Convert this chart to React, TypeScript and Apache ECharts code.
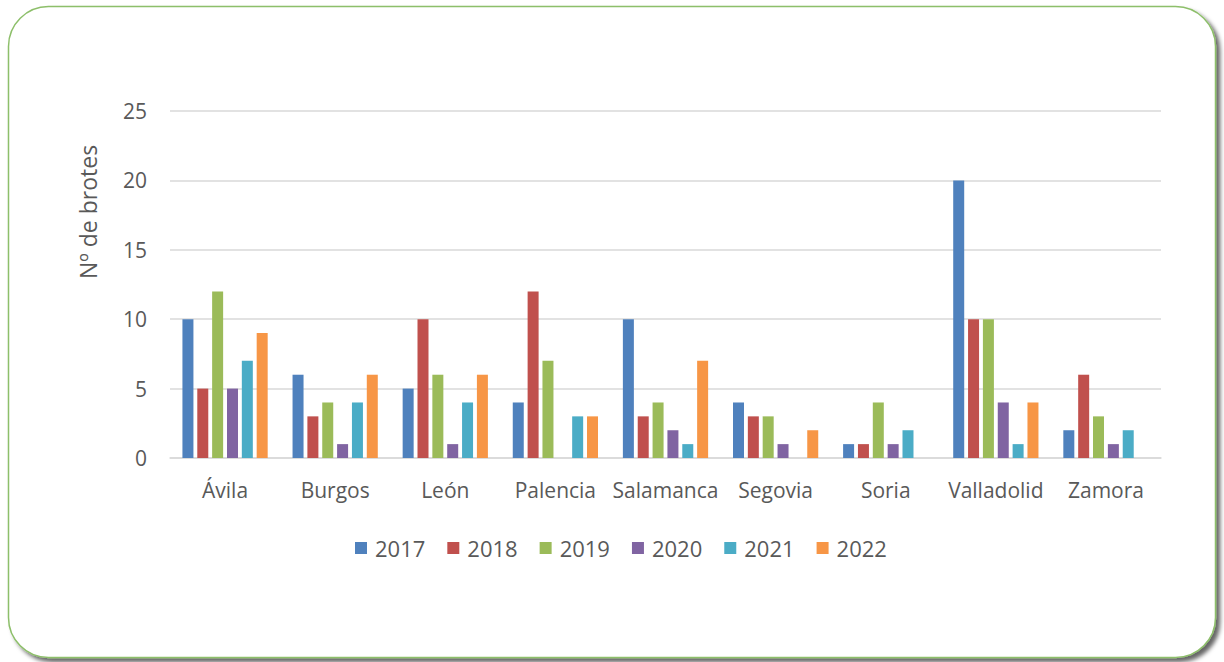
import React, { useEffect, useRef } from "react";
import * as echarts from "echarts";

const categories = ["Ávila", "Burgos", "León", "Palencia", "Salamanca", "Segovia", "Soria", "Valladolid", "Zamora"];
const years = ["2017", "2018", "2019", "2020", "2021", "2022"];
const v2017 = [10, 6, 5, 4, 10, 4, 1, 20, 2];
const v2018 = [5, 3, 10, 12, 3, 3, 1, 10, 6];
const v2019 = [12, 4, 6, 7, 4, 3, 4, 10, 3];
const v2020 = [5, 1, 1, 0, 2, 1, 1, 4, 1];
const v2021 = [7, 4, 4, 3, 1, 0, 2, 1, 2];
const v2022 = [9, 6, 6, 3, 7, 2, 0, 4, 0];
const seriesValues = [v2017, v2018, v2019, v2020, v2021, v2022];
const colors = ["#4F81BD", "#C0504D", "#9BBB59", "#8064A2", "#4BACC6", "#F79646"];
const yTitle = "Nº de brotes";

const FONT = "'Open Sans', sans-serif";
const TEXT = "#595959";

export default function App() {
  const ref = useRef<HTMLDivElement>(null);
  useEffect(() => {
    if (!ref.current) return;
    const chart = echarts.init(ref.current, undefined, { renderer: "svg" });
    chart.setOption({
      animation: false,
      backgroundColor: "#ffffff",
      color: colors,
      graphic: [
        {
          type: "rect",
          z: -10,
          silent: true,
          shape: { x: 8.5, y: 6.5, width: 1207, height: 651, r: 40 },
          style: {
            fill: "#ffffff",
            stroke: "#8DBF6A",
            lineWidth: 1.5,
            shadowColor: "rgba(0,0,0,0.6)",
            shadowBlur: 4,
            shadowOffsetX: 4,
            shadowOffsetY: 4,
          },
        },
        {
          type: "text",
          x: 88,
          y: 212,
          rotation: Math.PI / 2,
          style: {
            text: yTitle,
            fill: TEXT,
            font: `23px ${FONT}`,
            align: "center",
            verticalAlign: "middle",
          },
        },
      ],
      grid: { left: 170, right: 63, top: 111, bottom: 204, containLabel: false },
      legend: {
        data: years,
        left: 350,
        top: 532,
        itemWidth: 12,
        itemHeight: 12,
        itemGap: 22,
        icon: "rect",
        textStyle: { color: TEXT, fontSize: 22, fontFamily: FONT, padding: [0, 0, 0, 3] },
      },
      xAxis: {
        type: "category",
        data: categories,
        axisLine: { show: true, lineStyle: { color: "#D9D9D9", width: 1.5 } },
        axisTick: { show: false },
        axisLabel: { color: TEXT, fontSize: 21, fontFamily: FONT, margin: 21, interval: 0 },
      },
      yAxis: {
        type: "value",
        min: 0,
        max: 25,
        interval: 5,
        axisLine: { show: false },
        axisTick: { show: false },
        axisLabel: { color: TEXT, fontSize: 21, fontFamily: FONT, margin: 23 },
        splitLine: { lineStyle: { color: "#D9D9D9", width: 1.5 } },
      },
      series: years.map((y, i) => ({
        name: y,
        type: "bar",
        data: seriesValues[i],
        barWidth: 11,
        barGap: "35%",
        itemStyle: { color: colors[i] },
      })),
    });
    return () => chart.dispose();
  }, []);
  return (
    <div
      ref={ref}
      style={{ position: "absolute", left: 0, top: 0, width: 1224, height: 662 }}
    />
  );
}
